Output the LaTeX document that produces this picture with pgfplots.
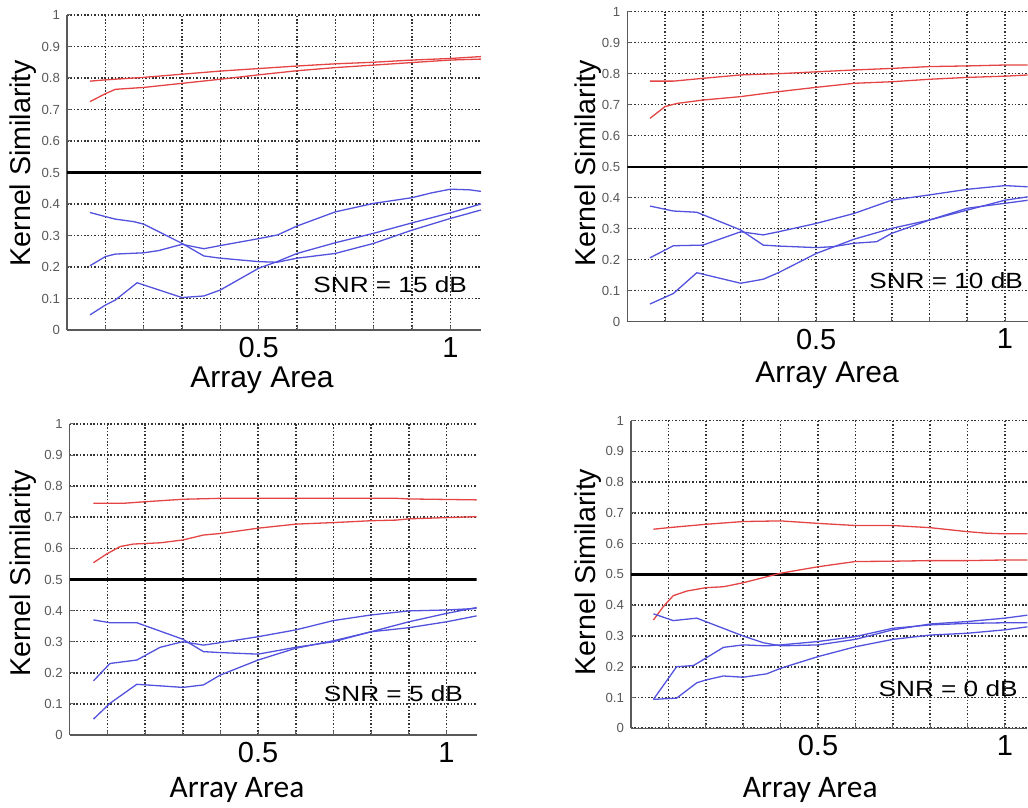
\documentclass[border=0pt]{standalone}
\usepackage{fontspec}
\setmainfont{Liberation Sans}
\newfontfamily\calibri{Carlito}
\usepackage{pgfplots}
\pgfplotsset{compat=1.18}
\definecolor{lred}{RGB}{228,68,68}
\definecolor{lblue}{RGB}{82,82,222}
\tikzset{snr/.style={font=\fontsize{11}{13}\selectfont, xscale=1.19}}
\pgfplotsset{
  myax/.style={
    scale only axis, xmin=0, ymin=0, ymax=1,
    axis x line*=bottom, axis y line*=left,
    axis line style={-, line width=0.65pt, color=black!65},
    xtick={0.1,0.2,0.3,0.4,0.5,0.6,0.7,0.8,0.9,1.0},
    xticklabels={,,,,0.5,,,,,1},
    ytick={0,0.1,0.2,0.3,0.4,0.5,0.6,0.7,0.8,0.9,1},
    yticklabels={0,0.1,0.2,0.3,0.4,0.5,0.6,0.7,0.8,0.9,1},
    grid=major,
    major grid style={black!80, line width=0.8pt, dash pattern=on 0.75pt off 0.95pt},
    tick align=inside, major tick length=2pt,
    tick style={black!60, line width=0.5pt},
    xticklabel style={font=\fontsize{14.5}{16}\selectfont},
    yticklabel style={font=\fontsize{6.6}{7}\selectfont, text=black!65},
    ylabel={Kernel Similarity},
    ylabel style={font=\fontsize{14.3}{16}\selectfont, anchor=center},
    xlabel={Array Area},
    xlabel style={anchor=center},
    every axis plot/.append style={line width=0.65pt},
  },
}
\begin{document}
\begin{tikzpicture}
\useasboundingbox (0pt,0pt) rectangle (514pt,404pt);
\clip (0pt,0pt) rectangle (514pt,404pt);

% ---------- Panel 1: SNR = 15 dB ----------
\begin{axis}[myax, at={(33.5pt,239pt)}, anchor=south west, width=207pt, height=157.5pt, xmax=1.08,
  ylabel style={at={(axis description cs:-0.106,0.53)}},
  xlabel style={at={(axis description cs:0.471,-0.159)}, font=\fontsize{15}{17}\selectfont}]
\addplot[black, line width=1.1pt] coordinates {(0,0.5) (1.1,0.5)};
\addplot[lred] coordinates {(0.06,0.79) (0.1,0.794) (0.2,0.802) (0.3,0.812) (0.4,0.822) (0.5,0.83) (0.6,0.838) (0.7,0.845) (0.8,0.85) (0.9,0.857) (1.0,0.862) (1.08,0.868)};
\addplot[lred] coordinates {(0.06,0.725) (0.1,0.75) (0.126,0.764) (0.2,0.77) (0.3,0.783) (0.4,0.796) (0.5,0.81) (0.6,0.823) (0.7,0.833) (0.8,0.841) (0.9,0.849) (1.0,0.857) (1.08,0.86)};
\addplot[lblue] coordinates {(0.06,0.373) (0.1,0.36) (0.126,0.352) (0.174,0.344) (0.2,0.336) (0.3,0.275) (0.357,0.235) (0.4,0.228) (0.5,0.217) (0.548,0.215) (0.6,0.228) (0.7,0.243) (0.8,0.275) (0.9,0.317) (1.0,0.354) (1.08,0.381)};
\addplot[lblue] coordinates {(0.06,0.204) (0.1,0.233) (0.126,0.241) (0.2,0.245) (0.239,0.252) (0.3,0.272) (0.357,0.258) (0.4,0.268) (0.5,0.29) (0.55,0.302) (0.6,0.33) (0.7,0.375) (0.8,0.402) (0.9,0.42) (0.95,0.435) (1.0,0.447) (1.05,0.445) (1.08,0.44)};
\addplot[lblue] coordinates {(0.06,0.048) (0.1,0.079) (0.126,0.095) (0.183,0.15) (0.2,0.143) (0.3,0.103) (0.357,0.108) (0.4,0.127) (0.5,0.196) (0.548,0.217) (0.6,0.243) (0.7,0.277) (0.8,0.307) (0.9,0.34) (1.0,0.372) (1.08,0.4)};
\node[snr] at (axis cs:0.843,0.143) {SNR = 15 dB};
\end{axis}

% ---------- Panel 2: SNR = 10 dB ----------
\begin{axis}[myax, at={(313.65pt,243.15pt)}, anchor=south west, width=200.2pt, height=155pt, xmax=1.06,
  ylabel style={at={(axis description cs:-0.098,0.51)}},
  xlabel style={at={(axis description cs:0.499,-0.172)}, font=\fontsize{15}{17}\selectfont}]
\addplot[black, line width=1.1pt] coordinates {(0,0.5) (1.1,0.5)};
\addplot[lred] coordinates {(0.06,0.776) (0.122,0.776) (0.2,0.785) (0.3,0.796) (0.4,0.8) (0.5,0.806) (0.6,0.812) (0.7,0.817) (0.8,0.823) (0.9,0.825) (1.0,0.828) (1.062,0.828)};
\addplot[lred] coordinates {(0.06,0.656) (0.1,0.694) (0.131,0.704) (0.2,0.715) (0.3,0.726) (0.4,0.742) (0.5,0.756) (0.6,0.769) (0.7,0.774) (0.8,0.782) (0.9,0.788) (1.0,0.792) (1.062,0.796)};
\addplot[lblue] coordinates {(0.06,0.373) (0.122,0.357) (0.184,0.353) (0.3,0.296) (0.36,0.247) (0.4,0.244) (0.5,0.239) (0.545,0.242) (0.6,0.253) (0.66,0.258) (0.7,0.285) (0.8,0.328) (0.9,0.366) (1.0,0.382) (1.062,0.392)};
\addplot[lblue] coordinates {(0.06,0.206) (0.122,0.245) (0.2,0.247) (0.3,0.29) (0.36,0.28) (0.4,0.29) (0.5,0.317) (0.6,0.349) (0.7,0.392) (0.8,0.409) (0.9,0.427) (1.0,0.439) (1.062,0.435)};
\addplot[lblue] coordinates {(0.06,0.057) (0.122,0.091) (0.184,0.158) (0.3,0.124) (0.36,0.137) (0.4,0.158) (0.5,0.22) (0.6,0.266) (0.7,0.301) (0.8,0.328) (0.9,0.36) (1.0,0.392) (1.062,0.403)};
\node[snr] at (axis cs:0.844,0.134) {SNR = 10 dB};
\end{axis}

% ---------- Panel 3: SNR = 5 dB ----------
\begin{axis}[myax, at={(34.85pt,36.5pt)}, anchor=south west, width=203.5pt, height=155.5pt, xmax=1.08,
  ylabel style={at={(axis description cs:-0.115,0.52)}},
  xlabel style={at={(axis description cs:0.411,-0.177)}, font=\calibri\fontsize{15.7}{18}\selectfont}]
\addplot[black, line width=1.1pt] coordinates {(0,0.5) (1.1,0.5)};
\addplot[lred] coordinates {(0.063,0.745) (0.142,0.745) (0.2,0.75) (0.3,0.758) (0.4,0.761) (0.5,0.761) (0.867,0.761) (0.9,0.759) (1.08,0.756)};
\addplot[lred] coordinates {(0.063,0.554) (0.098,0.582) (0.134,0.606) (0.169,0.614) (0.24,0.618) (0.3,0.627) (0.355,0.643) (0.4,0.648) (0.5,0.665) (0.6,0.678) (0.7,0.683) (0.8,0.689) (0.867,0.691) (0.9,0.695) (1.0,0.699) (1.08,0.702)};
\addplot[lblue] coordinates {(0.063,0.37) (0.107,0.361) (0.178,0.361) (0.3,0.308) (0.355,0.268) (0.4,0.265) (0.5,0.26) (0.6,0.282) (0.7,0.3) (0.8,0.332) (0.9,0.364) (1.0,0.391) (1.08,0.41)};
\addplot[lblue] coordinates {(0.063,0.174) (0.107,0.23) (0.178,0.241) (0.24,0.282) (0.3,0.3) (0.355,0.289) (0.4,0.297) (0.5,0.316) (0.6,0.338) (0.7,0.368) (0.8,0.386) (0.9,0.399) (1.0,0.402) (1.08,0.407)};
\addplot[lblue] coordinates {(0.063,0.051) (0.107,0.102) (0.178,0.163) (0.24,0.158) (0.3,0.153) (0.355,0.161) (0.4,0.193) (0.5,0.241) (0.6,0.279) (0.7,0.303) (0.8,0.332) (0.9,0.345) (1.0,0.364) (1.08,0.383)};
\node[snr] at (axis cs:0.859,0.134) {SNR = 5 dB};
\end{axis}

% ---------- Panel 4: SNR = 0 dB ----------
\begin{axis}[myax, at={(315.5pt,39.85pt)}, anchor=south west, width=198.2pt, height=153.85pt, xmax=1.06,
  ylabel style={at={(axis description cs:-0.108,0.508)}},
  xlabel style={at={(axis description cs:0.452,-0.2)}, font=\calibri\fontsize{15.7}{18}\selectfont}]
\addplot[black, line width=1.1pt] coordinates {(0,0.5) (1.1,0.5)};
\addplot[lred] coordinates {(0.06,0.647) (0.1,0.652) (0.2,0.663) (0.3,0.672) (0.4,0.674) (0.5,0.666) (0.6,0.659) (0.7,0.659) (0.8,0.652) (0.9,0.639) (0.951,0.634) (1.0,0.632) (1.062,0.632)};
\addplot[lred] coordinates {(0.06,0.352) (0.086,0.395) (0.113,0.431) (0.149,0.446) (0.2,0.457) (0.247,0.46) (0.3,0.473) (0.4,0.504) (0.5,0.525) (0.6,0.542) (0.7,0.543) (0.8,0.545) (0.9,0.545) (1.0,0.547) (1.062,0.547)};
\addplot[lblue] coordinates {(0.06,0.372) (0.113,0.35) (0.176,0.358) (0.3,0.3) (0.354,0.278) (0.4,0.268) (0.5,0.271) (0.6,0.289) (0.7,0.32) (0.8,0.339) (0.9,0.347) (1.0,0.358) (1.062,0.368)};
\addplot[lblue] coordinates {(0.06,0.094) (0.122,0.2) (0.167,0.204) (0.2,0.228) (0.247,0.263) (0.3,0.271) (0.363,0.268) (0.4,0.271) (0.5,0.282) (0.6,0.298) (0.7,0.325) (0.8,0.336) (0.9,0.341) (1.0,0.343) (1.062,0.343)};
\addplot[lblue] coordinates {(0.06,0.094) (0.122,0.098) (0.176,0.148) (0.2,0.157) (0.247,0.17) (0.3,0.166) (0.363,0.177) (0.4,0.195) (0.5,0.233) (0.6,0.265) (0.7,0.289) (0.8,0.303) (0.9,0.309) (1.0,0.32) (1.062,0.33)};
\node[snr] at (axis cs:0.848,0.13) {SNR = 0 dB};
\end{axis}
\end{tikzpicture}
\end{document}
